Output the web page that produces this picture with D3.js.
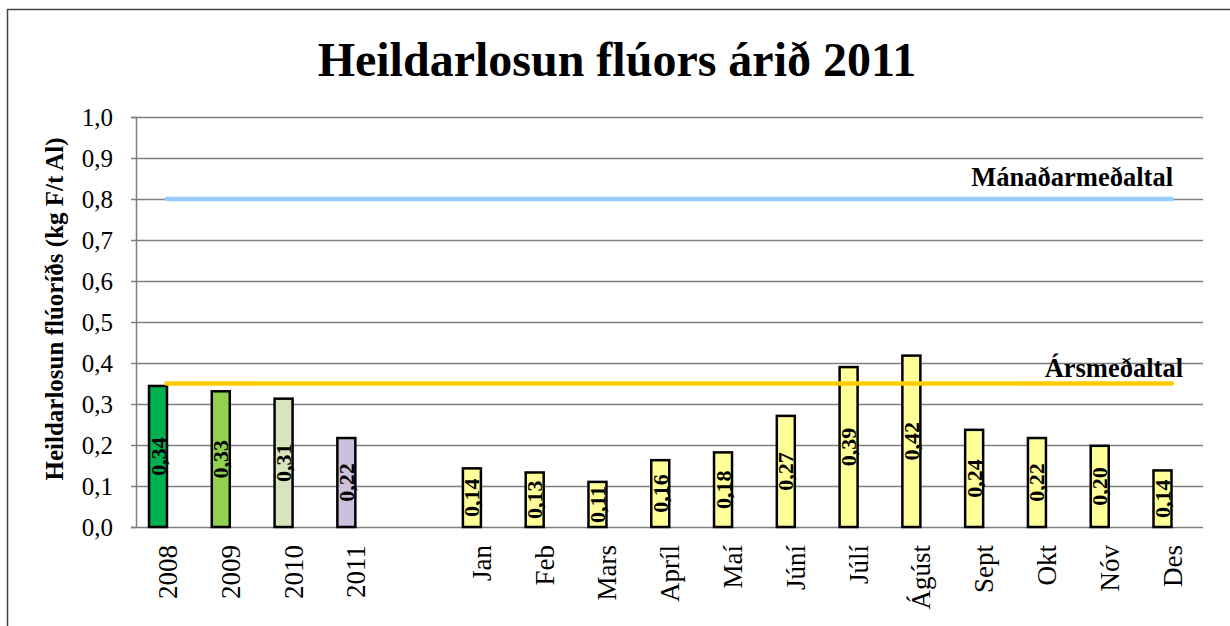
<!DOCTYPE html>
<html><head><meta charset="utf-8">
<script src="https://cdn.jsdelivr.net/npm/d3@7"></script>
<style>body{margin:0;background:#fff}svg{display:block}svg text{font-family:"Liberation Serif","Times New Roman",serif}</style>
</head><body>
<svg id="c" width="1230" height="626"></svg>
<script>
const categories = ["2008","2009","2010","2011","","Jan","Feb","Mars","Apríl","Maí","Júní","Júlí","Ágúst","Sept","Okt","Nóv","Des"];
const values = [0.344,0.331,0.313,0.217,null,0.143,0.133,0.110,0.163,0.182,0.271,0.390,0.418,0.237,0.217,0.198,0.138];
const barColors = ["#00B050","#92D050","#D7E4BD","#CCC1DA",null,"#FFFF99","#FFFF99","#FFFF99","#FFFF99","#FFFF99","#FFFF99","#FFFF99","#FFFF99","#FFFF99","#FFFF99","#FFFF99","#FFFF99"];
const yTicks = [0,0.1,0.2,0.3,0.4,0.5,0.6,0.7,0.8,0.9,1.0];
const monthlyAvg = 0.8, monthlyAvgLabel = "Mánaðarmeðaltal";
const yearlyAvg = 0.35, yearlyAvgLabel = "Ársmeðaltal";
const title = "Heildarlosun flúors árið 2011";
const yTitle = "Heildarlosun flúoríðs (kg F/t Al)";

const svg = d3.select("#c");
const serif = '"Liberation Serif","Times New Roman",serif';
const L = 136, R = 1203, T = 117, B = 527;

// outer frame
svg.append("path").attr("d","M7.5,626 V9.5 H1230").attr("fill","none").attr("stroke","#444").attr("stroke-width",1.5);

const x = d3.scalePoint().domain(d3.range(categories.length)).range([158, 1162.5]);
const y = d3.scaleLinear().domain([0,1]).range([B,T]);
const fmt = v => d3.format(".2f")(v).replace(".",",");

// gridlines
svg.append("g").selectAll("line").data(yTicks.slice(1)).join("line")
  .attr("x1",L).attr("x2",R).attr("y1",d=>Math.round(y(d))+0.5).attr("y2",d=>Math.round(y(d))+0.5)
  .attr("stroke","#7f7f7f").attr("stroke-width",1.5);

// y axis
const yAxis = svg.append("g").attr("transform",`translate(${L},0)`)
  .call(d3.axisLeft(y).tickValues(yTicks).tickSize(5).tickPadding(18).tickFormat(d=>d3.format(".1f")(d).replace(".",",")));
yAxis.attr("font-family",null).attr("font-size",null);
yAxis.select(".domain").attr("stroke","#7f7f7f").attr("stroke-width",1.5);
yAxis.selectAll(".tick line").attr("stroke","#7f7f7f").attr("stroke-width",1.5);
yAxis.selectAll("text").style("font-family",serif).style("font-size","25px").attr("fill","#000");

// x axis line
svg.append("line").attr("x1",L).attr("x2",R).attr("y1",B+0.5).attr("y2",B+0.5).attr("stroke","#7f7f7f").attr("stroke-width",1.5);

// bars
const bw = 18;
const data = categories.map((c,i)=>({c,i,v:values[i],col:barColors[i]})).filter(d=>d.v!=null);
svg.append("g").selectAll("rect").data(data).join("rect")
  .attr("x",d=>x(d.i)-bw/2).attr("y",d=>y(d.v)).attr("width",bw).attr("height",d=>B-y(d.v))
  .attr("fill",d=>d.col).attr("stroke","#000").attr("stroke-width",2.5);

// average lines
const lineOff = 8.5;
const line = d3.line().x(d=>d[0]).y(d=>d[1]);
svg.append("path").attr("d",line([[x(0)+lineOff,y(monthlyAvg)],[x(categories.length-1)+lineOff+1,y(monthlyAvg)]]))
  .attr("stroke","#99CCFF").attr("stroke-width",4.5).attr("stroke-linecap","round").attr("fill","none");
svg.append("path").attr("d",line([[x(0)+lineOff,y(yearlyAvg)],[x(categories.length-1)+lineOff+1,y(yearlyAvg)]]))
  .attr("stroke","#FFCC00").attr("stroke-width",4.5).attr("stroke-linecap","round").attr("fill","none");

// data labels
svg.append("g").selectAll("text").data(data).join("text")
  .attr("transform",d=>`translate(${x(d.i)+7.5},${(y(d.v)+B)/2}) rotate(-90)`)
  .attr("text-anchor","middle").style("font-weight","bold").style("font-size","22px")
  .text(d=>fmt(d.v));

// x labels
svg.append("g").selectAll("text").data(categories.map((c,i)=>({c,i})).filter(d=>d.c!=="")).join("text")
  .attr("transform",d=>`translate(${x(d.i)+19},545) rotate(-90)`)
  .attr("text-anchor","end").style("font-size","27px")
  .text(d=>d.c);

// line labels
svg.append("text").attr("x",1173).attr("y",186).attr("text-anchor","end")
  .style("font-weight","bold").style("font-size","26.5px").text(monthlyAvgLabel);
svg.append("text").attr("x",1183).attr("y",377).attr("text-anchor","end")
  .style("font-weight","bold").style("font-size","26.5px").text(yearlyAvgLabel);

// titles
svg.append("text").attr("x",617).attr("y",76).attr("text-anchor","middle")
  .style("font-weight","bold").style("font-size","48px").text(title);
svg.append("text").attr("transform",`translate(63,309) rotate(-90)`).attr("text-anchor","middle")
  .style("font-weight","bold").style("font-size","25px").text(yTitle);
</script>
</body></html>
